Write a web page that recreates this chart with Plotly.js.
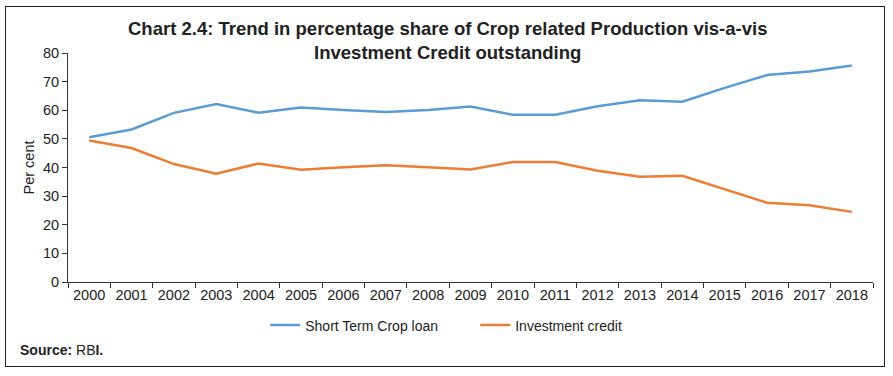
<!DOCTYPE html>
<html>
<head>
<meta charset="utf-8">
<script src="https://cdn.plot.ly/plotly-3.0.1.min.js"></script>
<style>
html,body{margin:0;padding:0;background:#fff;}
#wrap{position:relative;width:893px;height:376px;}
#chart{width:893px;height:376px;}
#frame{position:absolute;left:5px;top:6px;width:878px;height:359px;border:1.5px solid #222;pointer-events:none;}
</style>
</head>
<body>
<div id="wrap"><div id="chart"></div><div id="frame"></div></div>
<script>
const years = ['2000','2001','2002','2003','2004','2005','2006','2007','2008','2009','2010','2011','2012','2013','2014','2015','2016','2017','2018'];
const shortTermCropLoan = [50.6,53.3,59.1,62.2,59.1,61.0,60.1,59.4,60.1,61.3,58.4,58.4,61.4,63.5,63.0,67.8,72.3,73.5,75.6];
const investmentCredit = [49.4,46.8,41.2,37.8,41.4,39.2,40.1,40.8,40.1,39.3,41.9,41.9,38.9,36.8,37.1,32.4,27.7,26.8,24.5];
const yTicks = [0,10,20,30,40,50,60,70,80];

const traces = [
  {x: years, y: shortTermCropLoan, type:'scatter', mode:'lines', name:'Short Term Crop loan',
   line:{color:'#5B9BD5', width:2.5}},
  {x: years, y: investmentCredit, type:'scatter', mode:'lines', name:'Investment credit',
   line:{color:'#ED7D31', width:2.5}}
];

const layout = {
  width:893, height:376,
  margin:{l:68, r:20, t:53, b:94},
  paper_bgcolor:'#fff', plot_bgcolor:'#fff',
  font:{family:'Liberation Sans, Arial, sans-serif', size:14, color:'#222'},
  xaxis:{type:'category', range:[-0.5, years.length-0.5], tickson:'boundaries', ticks:'outside', ticklen:5, tickcolor:'#333',
    showline:true, linecolor:'#333', linewidth:1, showgrid:false, zeroline:false,
    tickfont:{size:14.5, color:'#222'}, fixedrange:true},
  yaxis:{range:[0,80], tickvals:yTicks, ticks:'outside', ticklen:5, tickcolor:'#333',
    showline:true, linecolor:'#333', linewidth:1, showgrid:false, zeroline:false,
    tickfont:{size:14.5, color:'#222'},
    title:{text:'Per cent', font:{size:14.5, color:'#222'}, standoff:4}},
  showlegend:true,
  legend:{orientation:'h', x:0.245, xanchor:'left', y:-0.19, yanchor:'middle',
    entrywidth:165, entrywidthmode:'pixels',
    font:{size:14, color:'#222'}, bgcolor:'rgba(0,0,0,0)'},
  annotations:[
    {text:'<b>Chart 2.4: Trend in percentage share of Crop related Production vis-a-vis<br>Investment Credit outstanding</b>',
     xref:'paper', yref:'paper', x:0.471, y:1.055, xanchor:'center', yanchor:'middle', showarrow:false,
     font:{family:'Liberation Sans Narrow, Arial Narrow, Liberation Sans, sans-serif', size:18.5, color:'#222'}},
    {text:'<b>Source:</b> RB<b>I.</b>', xref:'paper', yref:'paper', x:-0.062, y:-0.295,
     xanchor:'left', yanchor:'middle', showarrow:false, font:{size:14, color:'#222'}}
  ]
};

Plotly.newPlot('chart', traces, layout, {displayModeBar:false, staticPlot:true});
</script>
</body>
</html>
